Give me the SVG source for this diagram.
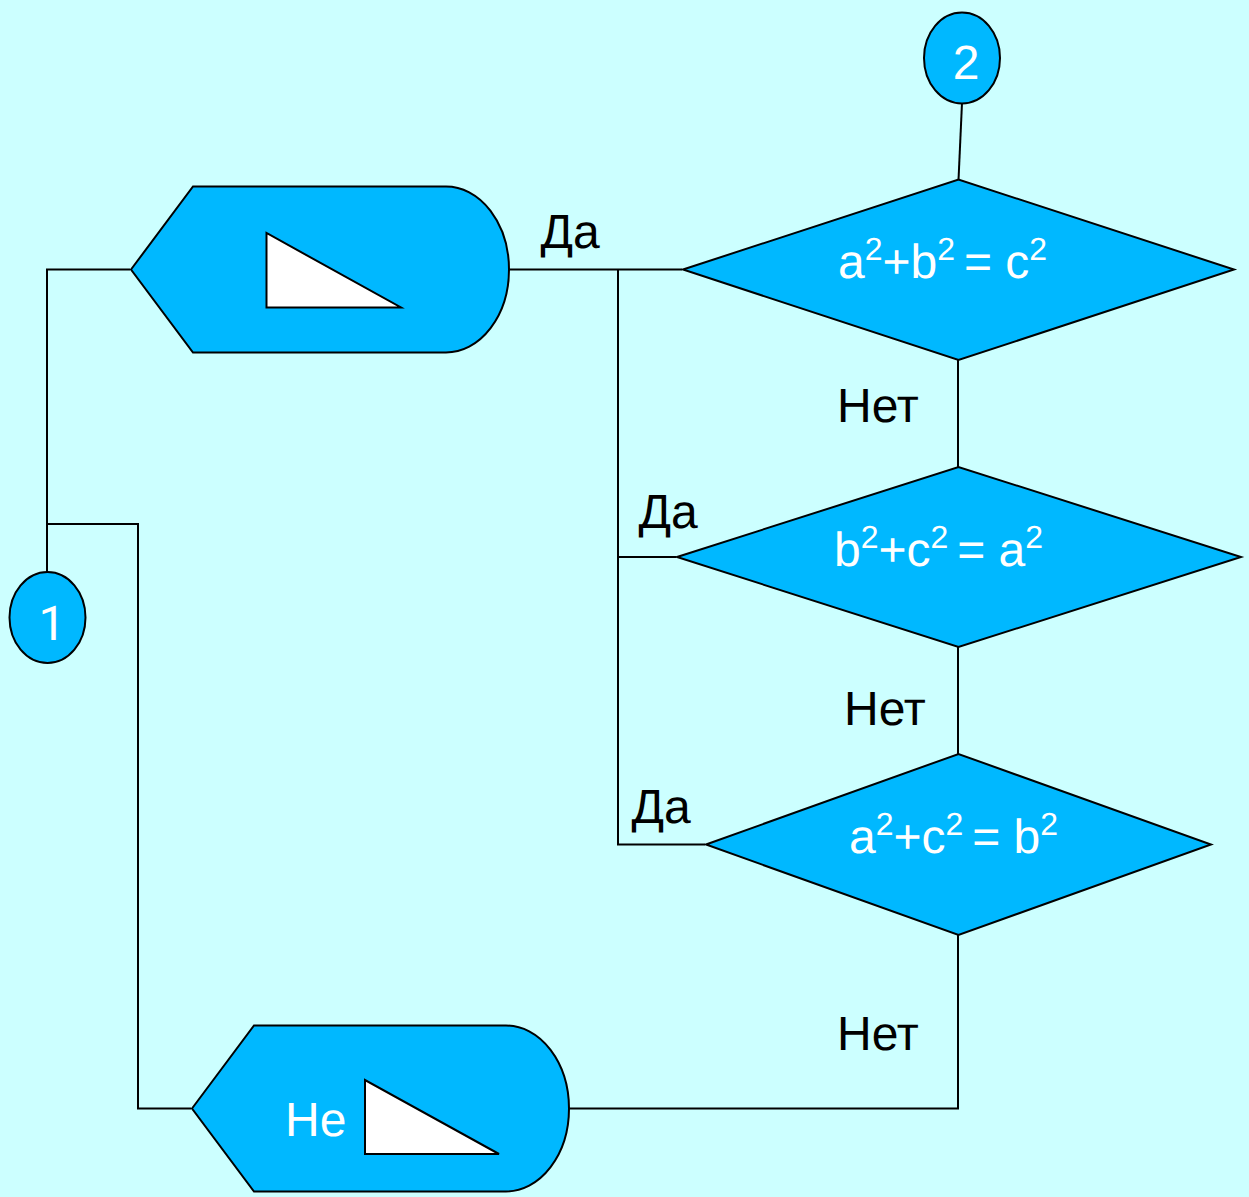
<svg xmlns="http://www.w3.org/2000/svg" width="1249" height="1197" viewBox="0 0 1249 1197">
<style>
.s{fill:#00b8ff;stroke:#000;stroke-width:2}
.t{fill:#fff;stroke:#000;stroke-width:2}
.c{fill:none;stroke:#000;stroke-width:2}
text{font-family:"Liberation Sans",Arial,sans-serif;text-rendering:geometricPrecision}
.w{fill:#fff;font-size:48px}
.k{fill:#000;font-size:48px}
.u{font-size:32px}
</style>
<rect width="1249" height="1197" fill="#ccffff"/>
<g id="connectors">
<path class="c" d="M962 103L958.500 180"/>
<path class="c" d="M130 269.500H47V573"/>
<path class="c" d="M47 524H138V1108.500H191"/>
<path class="c" d="M509 269.500H682"/>
<path class="c" d="M618 269.500V844.500H705"/>
<path class="c" d="M618 557H676"/>
<path class="c" d="M958 360V467"/>
<path class="c" d="M958 647V754"/>
<path class="c" d="M958 935V1108.500H569"/>
</g>
<g id="node-2"><ellipse class="s" cx="962" cy="58" rx="38" ry="45.500"/><text class="w" x="966" y="79" text-anchor="middle">2</text></g>
<g id="node-1"><ellipse class="s" cx="47.500" cy="617.500" rx="38" ry="45.500"/><text class="w" x="52" y="640" text-anchor="middle" style="font-family:Roboto,sans-serif">1</text></g>
<g id="display-yes"><path class="s" d="M131 269.500L193 186.500H446A63 83 0 0 1 446 352.500H193Z"/><path class="t" d="M266.500 233V307.500H401Z"/></g>
<g id="display-no"><path class="s" d="M192 1108.500L254 1025.500H506A63 83 0 0 1 506 1191.500H254Z"/><path class="t" d="M365 1080V1154H499Z"/><text class="w" x="285" y="1136">Не</text></g>
<g id="decision-1"><path class="s" d="M683 269.500L958.500 179.500L1234 269.500L958.500 360Z"/><text class="w" x="838" y="278" xml:space="preserve">a<tspan class="u" dy="-18">2</tspan><tspan dy="18">+b</tspan><tspan class="u" dy="-18">2 </tspan><tspan dy="18">= c</tspan><tspan class="u" dy="-18">2</tspan></text></g>
<g id="decision-2"><path class="s" d="M677 557L958.500 467L1241 557L958.500 647Z"/><text class="w" x="834" y="566" xml:space="preserve">b<tspan class="u" dy="-18">2</tspan><tspan dy="18">+c</tspan><tspan class="u" dy="-18">2 </tspan><tspan dy="18">= a</tspan><tspan class="u" dy="-18">2</tspan></text></g>
<g id="decision-3"><path class="s" d="M706 844.500L958.500 754L1211 844.500L958.500 935Z"/><text class="w" x="849" y="853" xml:space="preserve">a<tspan class="u" dy="-18">2</tspan><tspan dy="18">+c</tspan><tspan class="u" dy="-18">2 </tspan><tspan dy="18">= b</tspan><tspan class="u" dy="-18">2</tspan></text></g>
<g id="labels">
<text class="k" x="540.500" y="248">Да</text>
<text class="k" x="638.500" y="528">Да</text>
<text class="k" x="631.500" y="823">Да</text>
<text class="k" x="837" y="421.500">Нет</text>
<text class="k" x="844" y="724.500">Нет</text>
<text class="k" x="837" y="1049.500">Нет</text>
</g>
</svg>
